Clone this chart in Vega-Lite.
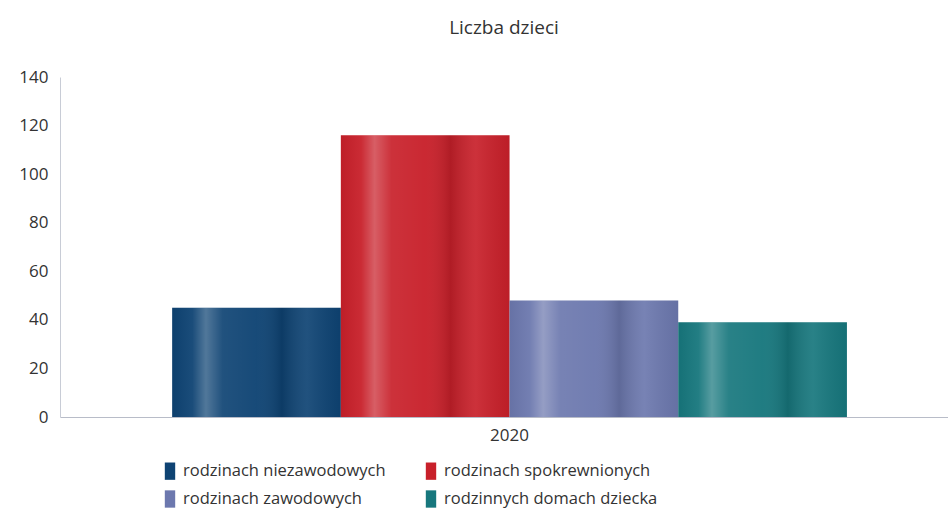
{
  "$schema": "https://vega.github.io/schema/vega-lite/v6.json",
  "width": 888,
  "height": 340,
  "autosize": {"type": "none"},
  "padding": {"left": 60, "top": 77, "right": 0, "bottom": 100},
  "background": "white",
  "config": {"view": {"stroke": null}},
  "title": {"text": "Liczba dzieci", "fontSize": 19, "font": "Open Sans", "fontWeight": "normal", "color": "#333333", "offset": 30, "anchor": "middle"},
  "data": {"values": [
    {"rok": "2020", "kategoria": "rodzinach niezawodowych", "liczba": 45},
    {"rok": "2020", "kategoria": "rodzinach spokrewnionych", "liczba": 116},
    {"rok": "2020", "kategoria": "rodzinach zawodowych", "liczba": 48},
    {"rok": "2020", "kategoria": "rodzinnych domach dziecka", "liczba": 39}
  ]},
  "encoding": {
    "x": {"field": "rok", "type": "nominal", "scale": {"paddingInner": 0, "paddingOuter": 0.158, "align": 0.526},
      "axis": {"title": null, "labelAngle": 0, "labelFont": "Open Sans", "labelFontSize": 17, "labelColor": "#333333", "ticks": false, "domainColor": "#b8bcc8", "labelPadding": 10}},
    "xOffset": {"field": "kategoria", "type": "nominal", "sort": null, "scale": {"paddingInner": 0, "paddingOuter": 0}},
    "y": {"field": "liczba", "type": "quantitative", "scale": {"domain": [0, 140]},
      "axis": {"title": null, "values": [0, 20, 40, 60, 80, 100, 120, 140], "grid": false, "ticks": false, "labelFont": "Open Sans", "labelFontSize": 17, "labelColor": "#333333", "domainColor": "#c8ccd6", "labelPadding": 12}}
  },
  "layer": [
    {
      "mark": {"type": "bar"},
      "encoding": {
        "color": {"field": "kategoria", "type": "nominal", "sort": null,
          "scale": {"range": ["#0e4373", "#c8202a", "#6c78ae", "#17777d"]},
          "legend": {"title": null, "orient": "none", "direction": "horizontal", "legendX": 101, "legendY": 385, "columns": 2, "columnPadding": 36, "rowPadding": 10, "labelLimit": 400,
            "symbolType": "M-0.6,-1H0.6V1H-0.6Z", "symbolSize": 300, "symbolStrokeWidth": 0, "labelFont": "Open Sans", "labelFontSize": 16.5, "labelColor": "#333333", "labelOffset": 4}}
      }
    },
    {
      "mark": {"type": "bar", "color": {"gradient": "linear", "x1": 0, "x2": 1, "y1": 0, "y2": 0, "stops": [
        {"offset": 0, "color": "rgba(0,0,0,0.05)"},
        {"offset": 0.12, "color": "rgba(255,255,255,0.05)"},
        {"offset": 0.2, "color": "rgba(255,255,255,0.28)"},
        {"offset": 0.3, "color": "rgba(255,255,255,0.08)"},
        {"offset": 0.5, "color": "rgba(255,255,255,0.04)"},
        {"offset": 0.65, "color": "rgba(0,0,0,0.12)"},
        {"offset": 0.8, "color": "rgba(255,255,255,0.08)"},
        {"offset": 1, "color": "rgba(0,0,0,0.06)"}
      ]}},
      "encoding": {}
    }
  ]
}
